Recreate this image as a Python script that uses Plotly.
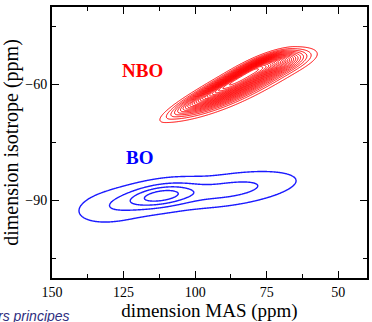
import numpy as np
import plotly.graph_objects as go

# Axis ticks (ppm)
X_TICKS = [150, 125, 100, 75, 50]
Y_TICKS = [-90, -60]

# NBO band: centre, shear of the band (ppm MAS per ppm isotrope),
# half-widths across the band (high / low MAS side) and along isotrope (low / high side)
NBO_X0 = 82.0
NBO_Y0 = -57.5
NBO_KX = -2.3
NBO_SX = [3.6, 6.5]
NBO_SY = [6.8, 4.0]
NBO_POW = 3.0

# BO site: peak components (centre, widths, ridge slope, amplitude)
BO_CX = [112.0, 88.0, 128.0]
BO_CY = [-88.7, -87.2, -91.4]
BO_SX = [8.0, 12.5, 8.0]
BO_SY = [2.0, 2.2, 2.5]
BO_SLOPE = [-0.1, -0.1, -0.1]
BO_AMP = [1.0, 0.5, 0.3]

# Contour levels (fraction of max)
NBO_LEVELS = dict(start=0.05, end=0.97, size=0.04)
BO_LEVELS = dict(start=0.08, end=0.9, size=0.25)

grid_x = np.arange(40.0, 150.01, 0.25)
grid_y = np.arange(-110.0, -39.99, 0.2)
GX, GY = np.meshgrid(grid_x, grid_y)


def band_site(x0, y0, kx, sx, sy, power):
    dy = GY - y0
    wy = np.where(dy < 0, sy[0], sy[1])
    along = np.exp(-0.5 * np.abs(dy / wy) ** power)
    dx = GX - (x0 + kx * dy)
    wx = np.where(dx > 0, sx[0], sx[1])
    across = np.exp(-0.5 * (dx / wx) ** 2)
    z = along * across
    return z / z.max()


def peak_site(cx, cy, sx, sy, slope, amp):
    z = np.zeros_like(GX)
    for a, b, c, d, s, h in zip(cx, cy, sx, sy, slope, amp):
        dx = GX - a
        dy = GY - b - s * dx
        z += h * np.exp(-0.5 * (dx / c) ** 2 - 0.5 * (dy / d) ** 2)
    return z / z.max()


z_nbo = band_site(NBO_X0, NBO_Y0, NBO_KX, NBO_SX, NBO_SY, NBO_POW)
z_bo = peak_site(BO_CX, BO_CY, BO_SX, BO_SY, BO_SLOPE, BO_AMP)

fig = go.Figure()
for z, col, lev, w in [(z_nbo, "#ff0000", NBO_LEVELS, 1.0), (z_bo, "#1a1aff", BO_LEVELS, 1.4)]:
    fig.add_trace(go.Contour(
        x=grid_x, y=grid_y, z=z,
        contours=dict(coloring="lines", showlabels=False, **lev),
        colorscale=[[0, col], [1, col]],
        line=dict(width=w), showscale=False, hoverinfo="skip",
    ))

serif = "Liberation Serif, Times New Roman, serif"
fig.add_annotation(x=118.5, y=-56.5, text="<b>NBO</b>", showarrow=False,
                   font=dict(family=serif, size=19, color="#ff0000"))
fig.add_annotation(x=119.5, y=-78.8, text="<b>BO</b>", showarrow=False,
                   font=dict(family=serif, size=19, color="#0000ff"))
fig.add_annotation(xref="paper", yref="paper", x=0.063, y=-0.14, xanchor="right", yanchor="middle",
                   text="<i>rs principes</i>", showarrow=False,
                   font=dict(family="Liberation Sans, Arial, sans-serif", size=14, color="#2e2e80"))

axis_common = dict(
    showline=True, linecolor="black", linewidth=2, mirror="ticks",
    ticks="inside", ticklen=7, tickwidth=1, tickcolor="black",
    showgrid=False, zeroline=False,
    tickfont=dict(family=serif, size=14, color="black"),
)
fig.update_xaxes(range=[150, 40], tickvals=X_TICKS,
                 minor=dict(dtick=12.5, tick0=0, ticks="inside", ticklen=4, tickcolor="black"),
                 title=dict(text="dimension MAS (ppm)", standoff=6,
                            font=dict(family=serif, size=19, color="black")),
                 **axis_common)
fig.update_yaxes(range=[-110, -40], tickvals=Y_TICKS,
                 minor=dict(dtick=15, tick0=0, ticks="inside", ticklen=4, tickcolor="black"),
                 title=dict(text="dimension isotrope (ppm)", standoff=4,
                            font=dict(family=serif, size=20, color="black")),
                 **axis_common)
fig.update_layout(
    width=372, height=322,
    margin=dict(l=52, r=3, t=7, b=38),
    plot_bgcolor="white", paper_bgcolor="white",
    showlegend=False,
)
fig.write_html("out.html")
